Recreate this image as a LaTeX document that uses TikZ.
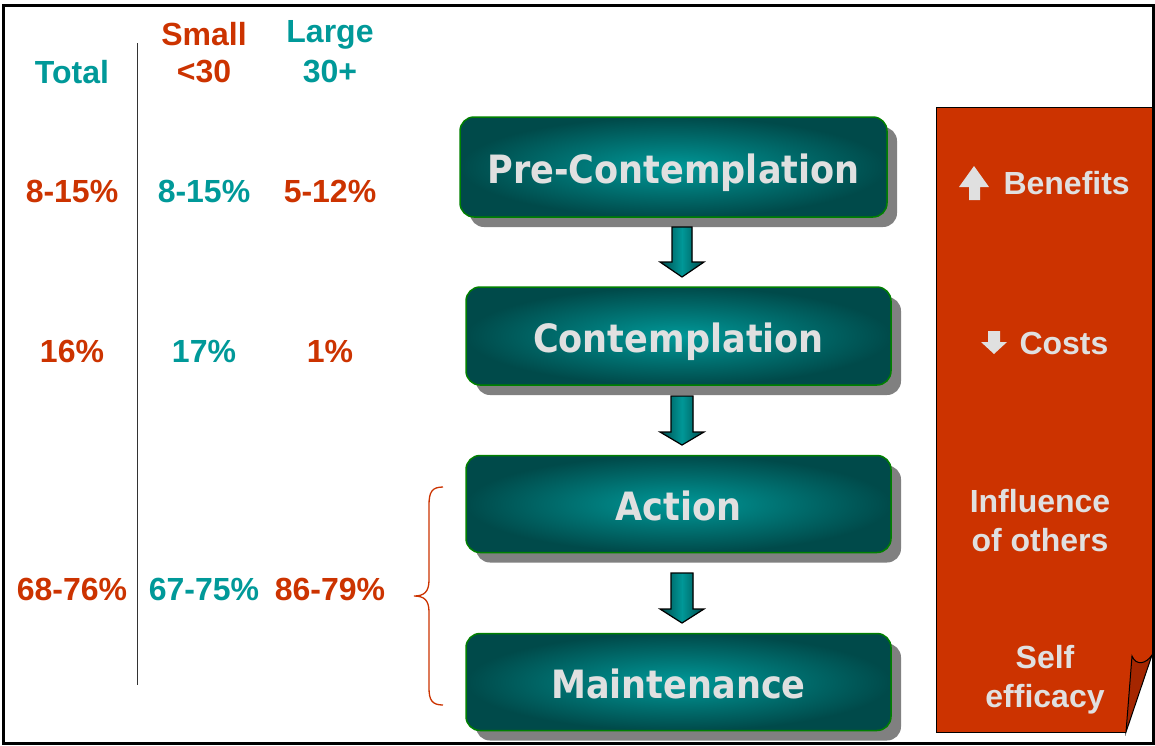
\documentclass[tikz,border=0pt]{standalone}
\usepackage{fontspec}
\setmainfont{Liberation Sans}
\newfontfamily\boxfont[FakeStretch=0.9]{DejaVu Sans}
\usetikzlibrary{shadows,calc}
\definecolor{redtxt}{RGB}{204,51,0}
\definecolor{tealtxt}{RGB}{0,153,153}
\definecolor{panelred}{RGB}{204,51,0}
\definecolor{flapred}{RGB}{165,38,0}
\definecolor{boxlight}{RGB}{0,152,152}
\definecolor{boxdark}{RGB}{0,74,74}
\definecolor{boxborder}{RGB}{0,128,0}
\definecolor{lighttxt}{RGB}{224,224,224}
\definecolor{shadowgray}{RGB}{128,128,128}
\tikzset{
  stage/.style={rounded corners=14pt, draw=boxborder, line width=1.5pt,
    inner color=boxlight, outer color=boxdark,
    drop shadow={shadow xshift=10pt, shadow yshift=-10pt, fill=shadowgray, opacity=1},
    text=lighttxt, font=\boxfont\bfseries\fontsize{39}{44}\selectfont,
    text height=36pt, text depth=4pt,
    minimum width=425pt, minimum height=98pt, inner sep=0pt},
  hdr/.style={font=\bfseries\fontsize{32}{36}\selectfont},
  cell/.style={font=\bfseries\fontsize{32}{36}\selectfont},
  rtxt/.style={text=lighttxt, font=\bfseries\fontsize{32}{39}\selectfont, align=center},
  blockarrow/.style={draw=black, line width=1.2pt, left color=boxdark, right color=boxdark, middle color=boxlight},
}
\begin{document}
\begin{tikzpicture}[x=1pt,y=-1pt]
\useasboundingbox (0,0) rectangle (1155,745);
\fill[white] (0,0) rectangle (1155,745);
% frame
\draw[line width=3pt] (3,5) rectangle (1153,743);

% table headers
\node[hdr, text=tealtxt] (total) at (72,72) {Total};
\node[hdr, text=redtxt] (small) at (204,34) {Small};
\node[hdr, text=redtxt] (lt30) at (204,72) {<30};
\node[hdr, text=tealtxt] (large) at (330,35) {Large};
\node[hdr, text=tealtxt] (ge30) at (330,72) {30+};
\coordinate (vtop) at (137,43);
\coordinate (vbot) at (137,685);
\draw[line width=1pt, black!80] (vtop) -- (vbot);

% rows
\node[cell, text=redtxt] (r1a) at (72,191) {8-15\%};
\node[cell, text=tealtxt] (r1b) at (204,191) {8-15\%};
\node[cell, text=redtxt] (r1c) at (330,191) {5-12\%};
\node[cell, text=redtxt] (r2a) at (72,351) {16\%};
\node[cell, text=tealtxt] (r2b) at (204,351) {17\%};
\node[cell, text=redtxt] (r2c) at (330,351) {1\%};
\node[cell, text=redtxt] (r3a) at (72,589) {68-76\%};
\node[cell, text=tealtxt] (r3b) at (204,589) {67-75\%};
\node[cell, text=redtxt] (r3c) at (330,589) {86-79\%};

% brace
\coordinate (btop) at (443,487);
\coordinate (bbot) at (443,705);
\draw[redtxt, line width=1.3pt]
  (btop) .. controls (432,487) and (429,492) .. (429,505)
  -- (429,580) .. controls (429,592) and (424,596) .. (414,596)
  .. controls (424,596) and (429,600) .. (429,612)
  -- (429,688) .. controls (429,700) and (432,705) .. (bbot);

% red panel
\fill[panelred] (936,107) -- (1152,107) -- (1152,655)
  .. controls (1146,664) and (1136,666) .. (1132,656)
  -- (1126,732) -- (936,732) -- cycle;
\draw[line width=1pt] (1126,732) -- (936,732) -- (936,107) -- (1152,107) -- (1152,655);
\filldraw[fill=flapred, draw=black, line width=1pt]
  (1132,656) .. controls (1136,666) and (1146,664) .. (1152,655)
  -- (1126,732) -- cycle;

% stages
\node[stage, minimum width=427pt, minimum height=100pt] (pre) at (673.5,167) {Pre-Contemplation};
\node[stage] (cont) at (678.5,336) {Contemplation};
\node[stage, minimum height=97pt] (act) at (678.5,504) {Action};
\node[stage, minimum height=97pt] (main) at (678.5,682) {Maintenance};

% block arrows
\filldraw[blockarrow] (672,227) -- (692,227) -- (692,262) -- (704,262) -- (682,277) -- (660,262) -- (672,262) -- cycle;
\filldraw[blockarrow] (671,396) -- (693,396) -- (693,432) -- (704,432) -- (682,445) -- (660,432) -- (671,432) -- cycle;
\filldraw[blockarrow] (671,573) -- (693,573) -- (693,609) -- (704,609) -- (682,623) -- (660,609) -- (671,609) -- cycle;

% panel texts
\fill[lighttxt] (969,200) -- (969,187) -- (959,187) -- (974,166) -- (989,187) -- (980,187) -- (980,200) -- cycle;
\node[rtxt, anchor=west] (benefits) at (1000,183) {Benefits};
\fill[lighttxt] (988,331) -- (988,342) -- (981,342) -- (994,354) -- (1007,342) -- (1000,342) -- (1000,331) -- cycle;
\node[rtxt, anchor=west] (costs) at (1016,343) {Costs};
\node[rtxt] (infl) at (1040,521) {Influence\\of others};
\node[rtxt] (self) at (1045,680) {Self\\efficacy};
\end{tikzpicture}
\end{document}
